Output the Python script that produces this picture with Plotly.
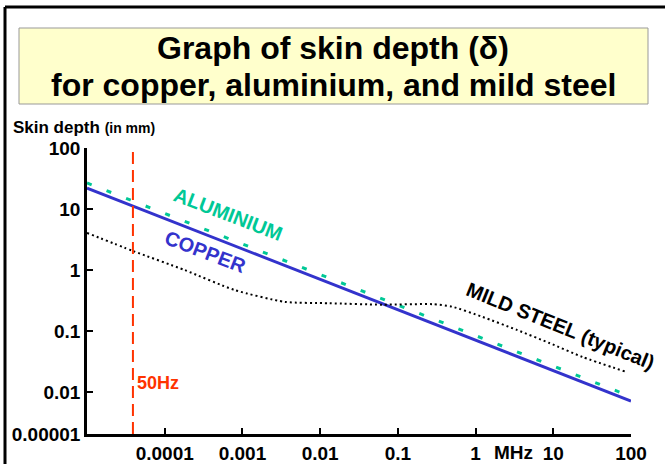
import plotly.graph_objects as go

# ---- data ----
freq_ends_mhz = [1e-5, 100]
copper_mm = [22.0, 0.0071]
aluminium_mm = [26.7, 0.0084]

steel_freq_mhz = [1e-5, 3.9e-5, 1.8e-4, 7.9e-4, 3.5e-3, 1.3e-2, 6.3e-2, 0.28, 0.5, 1.23, 3.4, 8.9, 23.7, 87]
steel_mm = [4.05, 2.05, 1.0, 0.47, 0.30, 0.285, 0.27, 0.275, 0.25, 0.17, 0.104, 0.0635, 0.0375, 0.0213]

mains_freq_mhz = 3.9e-5          # 50 Hz marker position
mains_span_mm = [0.00205, 100]

x_tick_vals = [1e-4, 1e-3, 1e-2, 1e-1, 1, 10, 100]
x_tick_text = ["0.0001", "0.001", "0.01", "0.1", "1", "10", "100"]
y_bottom = 10 ** -2.689
y_tick_vals = [100, 10, 1, 0.1, 0.01, y_bottom]
y_tick_text = ["100", "10", "1", "0.1", "0.01", "0.00001"]

# ---- layout geometry (pixels) ----
W, H = 665, 464
L, R, T, B = 87, 34, 148, 30
PW, PH = W - L - R, H - T - B

def px(x):
    return (x - L) / PW

def py(y):
    return (H - B - y) / PH

FONT = "Liberation Sans, Arial, Helvetica, sans-serif"
BLUE = "#3333CC"
GREEN = "#00C896"
RED = "#FF3300"

fig = go.Figure()

fig.add_trace(go.Scatter(x=freq_ends_mhz, y=aluminium_mm, mode="lines",
                         line=dict(color=GREEN, width=3, dash="5px,16px"),
                         hoverinfo="skip", showlegend=False))
fig.add_trace(go.Scatter(x=freq_ends_mhz, y=copper_mm, mode="lines",
                         line=dict(color=BLUE, width=3),
                         hoverinfo="skip", showlegend=False))
fig.add_trace(go.Scatter(x=steel_freq_mhz, y=steel_mm, mode="lines",
                         line=dict(color="black", width=2, dash="2px,3px", shape="spline", smoothing=0.6),
                         hoverinfo="skip", showlegend=False))
fig.add_trace(go.Scatter(x=[mains_freq_mhz, mains_freq_mhz], y=mains_span_mm, mode="lines",
                         line=dict(color=RED, width=2, dash="12px,6px"),
                         hoverinfo="skip", showlegend=False))

fig.update_xaxes(type="log", range=[-5, 2], tickmode="array", tickvals=x_tick_vals, ticktext=x_tick_text,
                 showline=True, linecolor="black", linewidth=2.5, ticks="inside", ticklen=6,
                 tickwidth=1.5, tickcolor="black", showgrid=False, zeroline=False,
                 tickfont=dict(family=FONT, size=19, color="black", weight="bold"))
fig.update_yaxes(type="log", range=[-2.689, 2], tickmode="array", tickvals=y_tick_vals, ticktext=y_tick_text,
                 showline=True, linecolor="black", linewidth=2.5, ticks="inside", ticklen=6,
                 tickwidth=1.5, tickcolor="black", showgrid=False, zeroline=False,
                 tickfont=dict(family=FONT, size=19, color="black", weight="bold"))

shapes = [
    # title box
    dict(type="rect", xref="paper", yref="paper", x0=px(19), x1=px(648), y0=py(104), y1=py(28),
         fillcolor="#FFFFCC", line=dict(color="#999999", width=1), layer="below"),
    # frame lines
    dict(type="line", xref="paper", yref="paper", x0=px(5), x1=px(665), y0=py(7), y1=py(7),
         line=dict(color="black", width=3)),
    dict(type="line", xref="paper", yref="paper", x0=px(5), x1=px(5), y0=py(7), y1=py(464),
         line=dict(color="black", width=3)),
]

def a(text, x, y, size, color="black", xref="paper", yref="paper", angle=0, xanchor="center"):
    return dict(text=text, xref=xref, yref=yref, x=x, y=y, textangle=angle, showarrow=False,
                xanchor=xanchor, yanchor="middle",
                font=dict(family=FONT, size=size, color=color, weight="bold"))

ann = [
    a("Graph of skin depth (δ)", px(333), py(48), 32),
    a("for copper, aluminium, and mild steel", px(333), py(85), 32),
    a("Skin depth <span style='font-size:14px'>(in mm)</span>", px(11), py(128), 17, xanchor="left"),
    a("MHz", 0.488, py(452), 19, xref="x"),
    a("ALUMINIUM", -3.188, 0.918, 20, GREEN, "x", "y", 21),
    a("COPPER", -3.47, 0.295, 20, BLUE, "x", "y", 21),
    a("MILD STEEL (typical)", 1.093, -0.918, 20, "black", "x", "y", 22),
    a("50Hz", -4.087, -1.852, 18, RED, "x", "y"),
]

fig.update_layout(width=W, height=H, margin=dict(l=L, r=R, t=T, b=B, autoexpand=False),
                  paper_bgcolor="white", plot_bgcolor="white",
                  shapes=shapes, annotations=ann, showlegend=False)

fig.write_html("out.html", config={"displayModeBar": False},
               post_script="document.body.style.margin='0';document.body.style.overflow='hidden';")
